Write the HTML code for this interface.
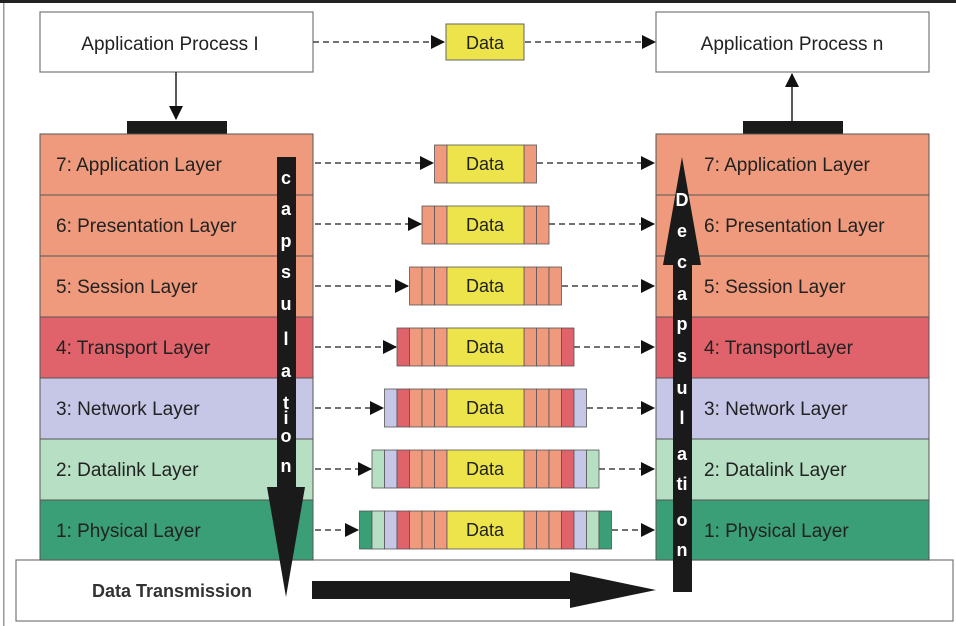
<!DOCTYPE html>
<html><head><meta charset="utf-8"><style>
html,body{margin:0;padding:0;background:#fff;}
svg{display:block;}
text{font-family:"Liberation Sans",sans-serif;fill:#222;}
text.w{fill:#fff;font-weight:bold;}
</style></head><body>
<svg width="956" height="626" viewBox="0 0 956 626" xmlns="http://www.w3.org/2000/svg">
<defs>
<marker id="ah2" markerWidth="14" markerHeight="14" refX="13" refY="7" orient="auto" markerUnits="userSpaceOnUse"><path d="M0,0 L14,7 L0,14 Z" fill="#111"/></marker>
</defs>
<rect x="0" y="0" width="956" height="3" fill="#222"/>
<rect x="3" y="3" width="1.5" height="623" fill="#999"/>

<rect x="40" y="12" width="273" height="60" fill="#fff" stroke="#777" stroke-width="1.2"/>
<text x="170" y="50" font-size="19" text-anchor="middle">Application Process I</text>
<rect x="656" y="12" width="273" height="60" fill="#fff" stroke="#777" stroke-width="1.2"/>
<text x="792" y="50" font-size="19" text-anchor="middle">Application Process n</text>
<rect x="446" y="24" width="78" height="36" fill="#ece44a" stroke="#666" stroke-width="1"/>
<text x="485" y="49" font-size="18" text-anchor="middle">Data</text>
<line x1="313" y1="42" x2="444" y2="42" stroke="#444" stroke-width="1.5" stroke-dasharray="6,4" marker-end="url(#ah2)"/>
<line x1="525" y1="42" x2="655" y2="42" stroke="#444" stroke-width="1.5" stroke-dasharray="6,4" marker-end="url(#ah2)"/>
<line x1="176" y1="72" x2="176" y2="119" stroke="#222" stroke-width="1.5" marker-end="url(#ah2)"/>
<line x1="792" y1="121" x2="792" y2="74" stroke="#222" stroke-width="1.5" marker-end="url(#ah2)"/>
<rect x="127" y="121" width="100" height="13" fill="#1a1a1a"/>
<rect x="743" y="121" width="100" height="13" fill="#1a1a1a"/>

<rect x="16" y="560" width="937" height="61" fill="#fff" stroke="#777" stroke-width="1.2"/>
<text x="172" y="597" font-size="18" text-anchor="middle" style="font-weight:bold;fill:#333">Data Transmission</text>

<g stroke="#555" stroke-width="1">
<rect x="40" y="134" width="273" height="61" fill="#ef9a7c"/>
<rect x="40" y="195" width="273" height="61" fill="#ef9a7c"/>
<rect x="40" y="256" width="273" height="61" fill="#ef9a7c"/>
<rect x="40" y="317" width="273" height="61" fill="#e0626a"/>
<rect x="40" y="378" width="273" height="61" fill="#c6c6e6"/>
<rect x="40" y="439" width="273" height="61" fill="#b7dfc3"/>
<rect x="40" y="500" width="273" height="60" fill="#3a9e76"/>
</g>
<g font-size="19">
<text x="56" y="171">7: Application Layer</text>
<text x="56" y="232">6: Presentation Layer</text>
<text x="56" y="293">5: Session Layer</text>
<text x="56" y="354">4: Transport Layer</text>
<text x="56" y="415">3: Network Layer</text>
<text x="56" y="476">2: Datalink Layer</text>
<text x="56" y="537">1: Physical Layer</text>
</g>
<g stroke="#555" stroke-width="1">
<rect x="656" y="134" width="273" height="61" fill="#ef9a7c"/>
<rect x="656" y="195" width="273" height="61" fill="#ef9a7c"/>
<rect x="656" y="256" width="273" height="61" fill="#ef9a7c"/>
<rect x="656" y="317" width="273" height="61" fill="#e0626a"/>
<rect x="656" y="378" width="273" height="61" fill="#c6c6e6"/>
<rect x="656" y="439" width="273" height="61" fill="#b7dfc3"/>
<rect x="656" y="500" width="273" height="60" fill="#3a9e76"/>
</g>
<g font-size="19">
<text x="704" y="171">7: Application Layer</text>
<text x="704" y="232">6: Presentation Layer</text>
<text x="704" y="293">5: Session Layer</text>
<text x="704" y="354">4: TransportLayer</text>
<text x="704" y="415">3: Network Layer</text>
<text x="704" y="476">2: Datalink Layer</text>
<text x="704" y="537">1: Physical Layer</text>
</g>

<g stroke="#555" stroke-width="0.8">
<rect x="434.5" y="145" width="12.5" height="38" fill="#ef9a7c"/>
<rect x="524" y="145" width="12.5" height="38" fill="#ef9a7c"/>
<rect x="447" y="145" width="77" height="38" fill="#ece44a"/>
<rect x="422" y="206" width="12.5" height="38" fill="#ef9a7c"/><rect x="434.5" y="206" width="12.5" height="38" fill="#ef9a7c"/>
<rect x="524" y="206" width="12.5" height="38" fill="#ef9a7c"/><rect x="536.5" y="206" width="12.5" height="38" fill="#ef9a7c"/>
<rect x="447" y="206" width="77" height="38" fill="#ece44a"/>
<rect x="409.5" y="267" width="12.5" height="38" fill="#ef9a7c"/><rect x="422" y="267" width="12.5" height="38" fill="#ef9a7c"/><rect x="434.5" y="267" width="12.5" height="38" fill="#ef9a7c"/>
<rect x="524" y="267" width="12.5" height="38" fill="#ef9a7c"/><rect x="536.5" y="267" width="12.5" height="38" fill="#ef9a7c"/><rect x="549" y="267" width="12.5" height="38" fill="#ef9a7c"/>
<rect x="447" y="267" width="77" height="38" fill="#ece44a"/>
<rect x="397" y="328" width="12.5" height="38" fill="#e0626a"/><rect x="409.5" y="328" width="12.5" height="38" fill="#ef9a7c"/><rect x="422" y="328" width="12.5" height="38" fill="#ef9a7c"/><rect x="434.5" y="328" width="12.5" height="38" fill="#ef9a7c"/>
<rect x="524" y="328" width="12.5" height="38" fill="#ef9a7c"/><rect x="536.5" y="328" width="12.5" height="38" fill="#ef9a7c"/><rect x="549" y="328" width="12.5" height="38" fill="#ef9a7c"/><rect x="561.5" y="328" width="12.5" height="38" fill="#e0626a"/>
<rect x="447" y="328" width="77" height="38" fill="#ece44a"/>
<rect x="384.5" y="389" width="12.5" height="38" fill="#c6c6e6"/><rect x="397" y="389" width="12.5" height="38" fill="#e0626a"/><rect x="409.5" y="389" width="12.5" height="38" fill="#ef9a7c"/><rect x="422" y="389" width="12.5" height="38" fill="#ef9a7c"/><rect x="434.5" y="389" width="12.5" height="38" fill="#ef9a7c"/>
<rect x="524" y="389" width="12.5" height="38" fill="#ef9a7c"/><rect x="536.5" y="389" width="12.5" height="38" fill="#ef9a7c"/><rect x="549" y="389" width="12.5" height="38" fill="#ef9a7c"/><rect x="561.5" y="389" width="12.5" height="38" fill="#e0626a"/><rect x="574" y="389" width="12.5" height="38" fill="#c6c6e6"/>
<rect x="447" y="389" width="77" height="38" fill="#ece44a"/>
<rect x="372" y="450" width="12.5" height="38" fill="#b7dfc3"/><rect x="384.5" y="450" width="12.5" height="38" fill="#c6c6e6"/><rect x="397" y="450" width="12.5" height="38" fill="#e0626a"/><rect x="409.5" y="450" width="12.5" height="38" fill="#ef9a7c"/><rect x="422" y="450" width="12.5" height="38" fill="#ef9a7c"/><rect x="434.5" y="450" width="12.5" height="38" fill="#ef9a7c"/>
<rect x="524" y="450" width="12.5" height="38" fill="#ef9a7c"/><rect x="536.5" y="450" width="12.5" height="38" fill="#ef9a7c"/><rect x="549" y="450" width="12.5" height="38" fill="#ef9a7c"/><rect x="561.5" y="450" width="12.5" height="38" fill="#e0626a"/><rect x="574" y="450" width="12.5" height="38" fill="#c6c6e6"/><rect x="586.5" y="450" width="12.5" height="38" fill="#b7dfc3"/>
<rect x="447" y="450" width="77" height="38" fill="#ece44a"/>
<rect x="359.5" y="511" width="12.5" height="38" fill="#3a9e76"/><rect x="372" y="511" width="12.5" height="38" fill="#b7dfc3"/><rect x="384.5" y="511" width="12.5" height="38" fill="#c6c6e6"/><rect x="397" y="511" width="12.5" height="38" fill="#e0626a"/><rect x="409.5" y="511" width="12.5" height="38" fill="#ef9a7c"/><rect x="422" y="511" width="12.5" height="38" fill="#ef9a7c"/><rect x="434.5" y="511" width="12.5" height="38" fill="#ef9a7c"/>
<rect x="524" y="511" width="12.5" height="38" fill="#ef9a7c"/><rect x="536.5" y="511" width="12.5" height="38" fill="#ef9a7c"/><rect x="549" y="511" width="12.5" height="38" fill="#ef9a7c"/><rect x="561.5" y="511" width="12.5" height="38" fill="#e0626a"/><rect x="574" y="511" width="12.5" height="38" fill="#c6c6e6"/><rect x="586.5" y="511" width="12.5" height="38" fill="#b7dfc3"/><rect x="599" y="511" width="12.5" height="38" fill="#3a9e76"/>
<rect x="447" y="511" width="77" height="38" fill="#ece44a"/>
</g>
<g font-size="18" text-anchor="middle">
<text x="485" y="170">Data</text><text x="485" y="231">Data</text><text x="485" y="292">Data</text><text x="485" y="353">Data</text><text x="485" y="414">Data</text><text x="485" y="475">Data</text><text x="485" y="536">Data</text>
</g>
<g stroke="#444" stroke-width="1.5" stroke-dasharray="6,4" fill="none">
<line x1="315" y1="163" x2="433" y2="163" marker-end="url(#ah2)"/>
<line x1="537" y1="163" x2="654" y2="163" marker-end="url(#ah2)"/>
<line x1="315" y1="224" x2="421" y2="224" marker-end="url(#ah2)"/>
<line x1="549" y1="224" x2="654" y2="224" marker-end="url(#ah2)"/>
<line x1="315" y1="286" x2="408" y2="286" marker-end="url(#ah2)"/>
<line x1="562" y1="286" x2="654" y2="286" marker-end="url(#ah2)"/>
<line x1="315" y1="347" x2="396" y2="347" marker-end="url(#ah2)"/>
<line x1="574" y1="347" x2="654" y2="347" marker-end="url(#ah2)"/>
<line x1="315" y1="408" x2="383" y2="408" marker-end="url(#ah2)"/>
<line x1="587" y1="408" x2="654" y2="408" marker-end="url(#ah2)"/>
<line x1="315" y1="469" x2="371" y2="469" marker-end="url(#ah2)"/>
<line x1="599" y1="469" x2="654" y2="469" marker-end="url(#ah2)"/>
<line x1="315" y1="530" x2="358" y2="530" marker-end="url(#ah2)"/>
<line x1="612" y1="530" x2="654" y2="530" marker-end="url(#ah2)"/>
</g>

<path d="M277,157 H296 V487 H305 L286,597 L267,487 H277 Z" fill="#1a1a1a"/>
<path d="M673,592 H692 V265 H701 L682,157 L663,265 H673 Z" fill="#1a1a1a"/>
<path d="M312,581 H570 V572 L656,590 L570,608 V599 H312 Z" fill="#1a1a1a"/>

<g font-size="18" text-anchor="middle">
<text class="w" x="286" y="184">c</text>
<text class="w" x="286" y="215">a</text>
<text class="w" x="286" y="247">p</text>
<text class="w" x="286" y="278">s</text>
<text class="w" x="286" y="310">u</text>
<text class="w" x="286" y="345">l</text>
<text class="w" x="286" y="377">a</text>
<text class="w" x="286" y="409">t</text>
<text class="w" x="286" y="424">i</text>
<text class="w" x="286" y="442">o</text>
<text class="w" x="286" y="472">n</text>

<text class="w" x="682" y="206">D</text>
<text class="w" x="682" y="237">e</text>
<text class="w" x="682" y="268">c</text>
<text class="w" x="682" y="300">a</text>
<text class="w" x="682" y="330">p</text>
<text class="w" x="682" y="362">s</text>
<text class="w" x="682" y="394">u</text>
<text class="w" x="682" y="424">l</text>
<text class="w" x="682" y="460">a</text>
<text class="w" x="682" y="490">ti</text>
<text class="w" x="682" y="526">o</text>
<text class="w" x="682" y="556">n</text>
</g>
</svg>
</body></html>
